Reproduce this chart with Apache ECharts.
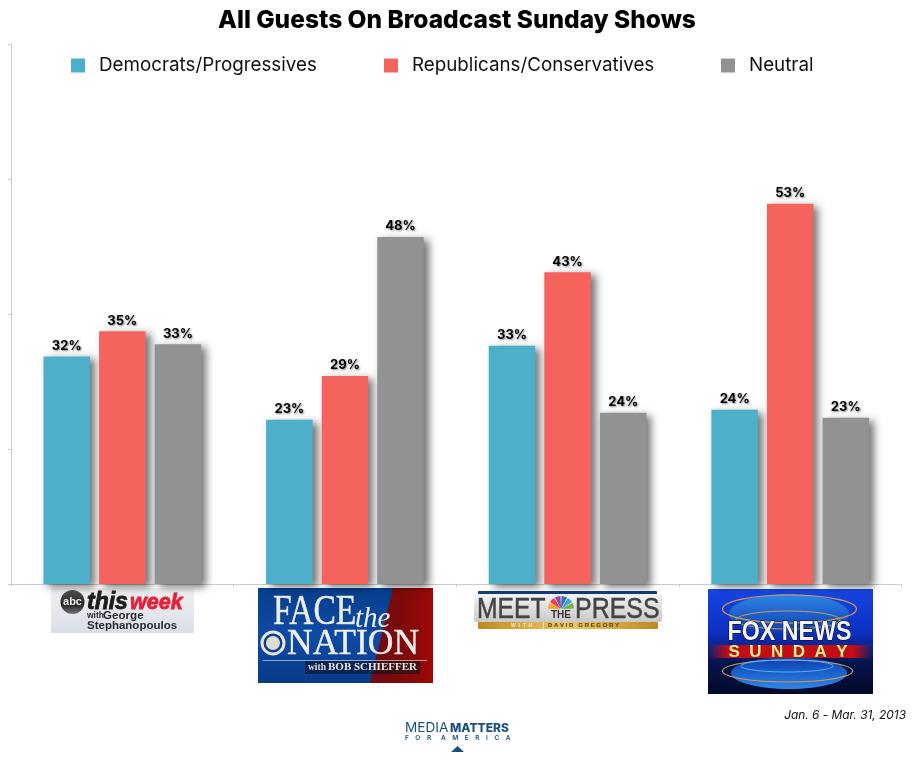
<!DOCTYPE html>
<html><head><meta charset="utf-8">
<style>html,body{margin:0;padding:0;background:#fff}#c{width:914px;height:760px}</style>
<script src="https://cdn.jsdelivr.net/npm/echarts@6/dist/echarts.min.js"></script>
</head><body><div id="c"></div>
<script>
const shows = ['This Week', 'Face the Nation', 'Meet the Press', 'Fox News Sunday'];
const democrats = [31.6, 22.8, 33.1, 24.2];
const republicans = [35.1, 28.9, 43.3, 52.8];
const neutral = [33.3, 48.2, 23.8, 23.1];
const seriesNames = ['Democrats/Progressives', 'Republicans/Conservatives', 'Neutral'];
const colors = ['#4DAFC9', '#F4645C', '#929292'];
const FONT = 'Inter';
const chart = echarts.init(document.getElementById('c'), null, {renderer: 'canvas'});
const mk = (name, data, color) => ({
  name, type: 'bar', data, barWidth: 46.5, barGap: '19.5%',
  itemStyle: {color, shadowColor: 'rgba(0,0,0,0.55)', shadowBlur: 8, shadowOffsetX: 5, shadowOffsetY: 3},
  label: {show: true, position: 'top', distance: 4, fontFamily: FONT, fontWeight: 700, fontSize: 13, color: '#000',
    textShadowColor: 'rgba(0,0,0,0.45)', textShadowBlur: 2, textShadowOffsetX: 1, textShadowOffsetY: 1,
    formatter: p => Math.round(p.value) + '%'},
  emphasis: {disabled: true}
});
const leg = (i, left) => ({
  data: [seriesNames[i]], left, top: 51, orient: 'horizontal', itemWidth: 14, itemHeight: 14, itemGap: 0,
  icon: 'rect', textStyle: {fontFamily: FONT, fontSize: 18.8, color: '#111', padding: [0, 0, 0, 9]}, selectedMode: false
});
const txt = (x, y, text, o, extra) => Object.assign({type: 'text', x, y, silent: true, style: Object.assign({text, fill: '#fff', fontFamily: 'Liberation Sans', fontWeight: 700, fontSize: 12, textAlign: 'left', textVerticalAlign: 'middle'}, o || {})}, extra || {});
const rect = (x, y, width, height, fill, r) => ({type: 'rect', silent: true, shape: {x, y, width, height, r: r || 0}, style: {fill}});
const lin = (x0, y0, x1, y1, stops) => new echarts.graphic.LinearGradient(x0, y0, x1, y1, stops.map(c => ({offset: c[0], color: c[1]})));
const ring = (cx, cy, rx, ry, stroke, lineWidth) => ({type: 'ellipse', silent: true, shape: {cx, cy, rx, ry}, style: {fill: 'none', stroke, lineWidth}});

const thisWeek = [
  rect(51, 588, 143, 45, lin(0, 0, 0, 1, [[0, '#F1F1F1'], [1, '#D9DEE7']])),
  {type: 'circle', silent: true, shape: {cx: 72.5, cy: 602, r: 12}, style: {fill: lin(0, 0, 0, 1, [[0, '#555'], [0.6, '#222'], [1, '#777']])}},
  txt(72.5, 601.5, 'abc', {fontSize: 11, textAlign: 'center', fill: '#eee'}),
  txt(87, 603, 'this', {fontSize: 23, fontStyle: 'italic', fontWeight: 900, fill: '#1c1c1c', stroke: '#1c1c1c', lineWidth: 0.8}),
  txt(130, 603, 'week', {fontSize: 21.5, fontStyle: 'italic', fontWeight: 900, fill: '#E4203A', stroke: '#E4203A', lineWidth: 0.8}),
  txt(87, 615.5, 'with', {fontSize: 8.5, fill: '#2a2a2a'}),
  txt(103, 615.5, 'George', {fontSize: 11.6, fill: '#2a2a2a'}),
  txt(87, 625.5, 'Stephanopoulos', {fontSize: 11.5, fill: '#2a2a2a'})
];
const faceNation = [
  rect(258, 588, 175, 95, lin(0, 0, 0, 1, [[0, '#073E8C'], [0.5, '#0E4BA6'], [1, '#0A3A8A']])),
  {type: 'polygon', silent: true, shape: {points: [[393, 588], [433, 588], [433, 683], [370, 683]]}, style: {fill: lin(0, 0, 1, 0, [[0, '#6E0A12'], [0.5, '#7E0A0A'], [1, '#A00808']])}},
  txt(273, 613, 'FACE', {fontFamily: 'Liberation Serif', fontSize: 42, fontWeight: 400, fill: '#EDEDE6', stroke: '#ddd', lineWidth: 0.5}, {scaleX: 0.8}),
  txt(355, 619, 'the', {fontFamily: 'Liberation Serif', fontStyle: 'italic', fontSize: 29, fontWeight: 400, fill: '#F2F2EC'}),
  {type: 'circle', silent: true, shape: {cx: 273, cy: 643, r: 11}, style: {fill: '#0C3F8E', stroke: '#E6E6DE', lineWidth: 3}},
  {type: 'circle', silent: true, shape: {cx: 273, cy: 643, r: 7}, style: {fill: '#DEDED6'}},
  txt(287, 645, 'NATION', {fontFamily: 'Liberation Serif', fontSize: 35.5, fontWeight: 400, fill: '#EFEFE8', stroke: '#ddd', lineWidth: 0.4}),
  rect(263, 660, 164, 1, 'rgba(255,255,255,0.55)'),
  rect(305, 661, 115, 13, 'rgba(10,15,30,0.55)'),
  txt(308, 667.5, 'with', {fontFamily: 'Liberation Serif', fontSize: 9.5, fill: '#ddd'}),
  txt(328, 667.5, 'BOB SCHIEFFER', {fontFamily: 'Liberation Serif', fontSize: 11, fill: '#E8E8E0'})
];
const petals = ['#F5A623', '#EE3B4C', '#8D4FA0', '#3C6FC0', '#3DA7DB', '#6CB33F'];
const meetPress = [
  rect(478, 591, 179, 5, '#123D7A', 1),
  rect(474, 594, 188, 28, lin(0, 0, 0, 1, [[0, '#F4F4F4'], [1, '#C9C9C9']]), 2),
  rect(478, 622, 180, 7, lin(0, 0, 1, 0, [[0, '#BE8A1E'], [0.5, '#EFC766'], [1, '#BE8A1E']]), 1),
  txt(477, 610, 'MEET', {fontSize: 29, fontWeight: 400, fill: '#444', stroke: '#444', lineWidth: 0.5}, {scaleX: 0.85}),
  txt(575, 610, 'PRESS', {fontSize: 29, fontWeight: 400, fill: '#444', stroke: '#444', lineWidth: 0.5}, {scaleX: 0.86}),
  ...petals.map((c, i) => ({type: 'sector', silent: true, shape: {cx: 561, cy: 609, r0: 1, r: 13,
    startAngle: Math.PI + i * Math.PI / 6 + 0.04, endAngle: Math.PI + (i + 1) * Math.PI / 6 - 0.04}, style: {fill: c}})),
  txt(561, 615, 'THE', {fontSize: 10, textAlign: 'center', fill: '#333'}),
  txt(511, 625.5, 'W  I  T  H', {fontSize: 5, fill: '#F8EFD0'}),
  rect(543, 622, 0.7, 7, '#F8EFD0'),
  txt(548, 625.5, 'D A V I D   G R E G O R Y', {fontSize: 6, fill: '#4A3A12'})
];
const foxNews = [
  rect(708, 589, 165, 105, lin(0, 0, 0, 1, [[0, '#1646E6'], [0.42, '#0C2FC0'], [0.7, '#06144E'], [1, '#030A28']])),
  {type: 'ellipse', silent: true, shape: {cx: 789, cy: 614, rx: 60, ry: 20}, style: {fill: lin(0, 0, 0, 1, [[0, '#2F86E6'], [1, '#0B3CB0']])}},
  {type: 'ellipse', silent: true, shape: {cx: 789, cy: 673, rx: 58, ry: 16}, style: {fill: lin(0, 0, 0, 1, [[0, '#0B3CB0'], [1, '#2F86E6']])}},
  ring(789.5, 609, 67, 14, '#D69A55', 1.2),
  ring(788, 620, 52, 9, '#C79A62', 1),
  ring(787.5, 671, 65, 11, '#D69A55', 1.2),
  ring(787, 666, 46, 6, '#4FB3EE', 1),
  rect(708, 645, 165, 13, lin(0, 0, 1, 0, [[0, 'rgba(190,10,20,0)'], [0.12, '#C40D16'], [0.88, '#C40D16'], [1, 'rgba(190,10,20,0)']])),
  txt(789.5, 632.5, 'FOX NEWS', {fontSize: 27, fontWeight: 700, textAlign: 'center', fill: '#F4F4F6', stroke: '#0A0A14', lineWidth: 1.2, strokeFirst: true}, {scaleX: 0.86}),
  txt(788, 652.5, 'S  U  N  D  A  Y', {fontSize: 17, textAlign: 'center', fill: '#F3EE90', stroke: '#3a2a00', lineWidth: 0.3})
];
const footer = [
  txt(405, 728, 'MEDIA', {fontFamily: FONT, fontSize: 13.6, fontWeight: 400, fill: '#1B4F80'}),
  txt(450, 728, 'MATTERS', {fontFamily: FONT, fontSize: 12, fontWeight: 800, fill: '#1B4F80'}),
  txt(405, 738, 'F    O    R      A    M    E    R    I    C    A', {fontFamily: FONT, fontSize: 6.5, fontWeight: 600, fill: '#1B4F80'}),
  {type: 'polygon', silent: true, shape: {points: [[451, 752], [464, 752], [457.5, 746]]}, style: {fill: '#1B4F80'}},
  txt(906, 715, 'Jan. 6 - Mar. 31, 2013', {fontFamily: FONT, fontWeight: 400, fontStyle: 'italic', fontSize: 11.9, textAlign: 'right', fill: '#111'})
];

chart.setOption({
  animation: false,
  backgroundColor: '#fff',
  title: {text: 'All Guests On Broadcast Sunday Shows', left: 'center', top: 3,
    textStyle: {fontFamily: FONT, fontWeight: 800, fontSize: 24.5, color: '#000'}},
  legend: [leg(0, 66), leg(1, 379), leg(2, 716)],
  grid: {left: 11, right: 12.5, top: 44, bottom: 176, containLabel: false},
  xAxis: {type: 'category', data: shows,
    axisLine: {lineStyle: {color: '#ccc', width: 1}},
    axisTick: {show: true, alignWithLabel: false, length: 3, lineStyle: {color: '#ccc'}},
    axisLabel: {show: false}, splitLine: {show: false}},
  yAxis: {type: 'value', min: 0, max: 75, interval: 18.75,
    axisLine: {show: true, lineStyle: {color: '#ccc', width: 1}},
    axisTick: {show: true, length: 3, lineStyle: {color: '#ccc'}},
    axisLabel: {show: false}, splitLine: {show: false}},
  series: [mk(seriesNames[0], democrats, colors[0]), mk(seriesNames[1], republicans, colors[1]), mk(seriesNames[2], neutral, colors[2])],
  graphic: {elements: [...thisWeek, ...faceNation, ...meetPress, ...foxNews, ...footer]}
});
</script></body></html>
